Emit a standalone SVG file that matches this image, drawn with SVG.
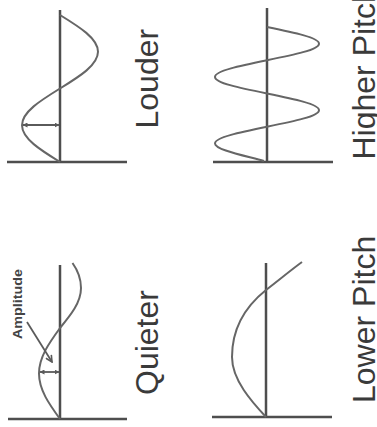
<svg xmlns="http://www.w3.org/2000/svg" width="377" height="427" viewBox="0 0 377 427">
<style>
.axis{stroke:#4e4e4e;stroke-width:2.5;fill:none}
.wave{stroke:#666;stroke-width:2;fill:none}
.lbl{font-family:"Liberation Sans",Arial,sans-serif;font-size:32px;fill:#3a3a3a}
.small{font-family:"Liberation Sans",Arial,sans-serif;font-size:13px;font-weight:bold;fill:#444}
.arr{stroke:#5a5a5a;stroke-width:1.8;fill:none}
</style>
<defs>
<marker id="ah" viewBox="0 0 10 10" refX="9" refY="5" markerWidth="5" markerHeight="5" orient="auto-start-reverse" markerUnits="userSpaceOnUse">
<path d="M0,0 L10,5 L0,10 Z" fill="#5a5a5a"/>
</marker>
<marker id="av" viewBox="0 0 10 10" refX="9" refY="5" markerWidth="8" markerHeight="8" orient="auto" markerUnits="userSpaceOnUse">
<path d="M1,1 L9,5 L1,9" fill="none" stroke="#5a5a5a" stroke-width="2"/>
</marker>
</defs>
<rect width="377" height="427" fill="#ffffff"/>
<g id="louder">
<line class="axis" x1="60" y1="10" x2="60" y2="162"/>
<line class="axis" x1="7" y1="162" x2="127" y2="162"/>
<path class="wave" d="M60,162 C40.53,150.02 22,138.55 22,125.25 C22,111.95 40.53,100.48 60,88.5 C79.47,76.52 98,65.05 98,51.75 C98,38.45 79.47,26.98 60,15"/>
<text class="lbl" transform="translate(158,128.5) rotate(-90)">Louder</text>
</g>
<g id="higher-pitch">
<line class="axis" x1="267" y1="8" x2="267" y2="162"/>
<line class="axis" x1="213" y1="162" x2="333" y2="162"/>
<path class="wave" d="M264,161 C240.36,154.58 215,149.39 215,143.375 C215,137.355 240.36,132.175 267,126.75 C293.64,121.33 319,116.14 319,110.125 C319,104.105 293.64,98.925 267,93.5 C240.36,88.08 215,82.89 215,76.875 C215,70.855 240.36,65.675 267,60.25 C293.64,54.83 319,49.64 319,43.625 C319,37.605 293.64,32.425 267,27"/>
<text class="lbl" transform="translate(375,159.5) rotate(-90)">Higher Pitch</text>
</g>
<g id="quieter">
<line class="axis" x1="60" y1="265" x2="60" y2="419"/>
<line class="axis" x1="8" y1="419" x2="127" y2="419"/>
<path class="wave" d="M60,419 C49.24,404.16 39,389.97 39,373.5 C39,357.03 49.24,342.84 60,328 C70.76,314.96 81,302.48 81,288 C81,279 77.5,270 72.5,263"/>
<text class="lbl" transform="translate(158,395) rotate(-90)">Quieter</text>
<text class="small" transform="translate(22,339) rotate(-90)" textLength="70" lengthAdjust="spacingAndGlyphs">Amplitude</text>
</g>
<g id="lower-pitch">
<line class="axis" x1="266" y1="263" x2="266" y2="417"/>
<line class="axis" x1="212" y1="417" x2="332" y2="417"/>
<path class="wave" d="M266,417 C252,402 232,380 232,357 C232,327 246,306 266,290 C279,280 291,270 302,262"/>
<text class="lbl" transform="translate(375,403) rotate(-90)">Lower Pitch</text>
</g>
<g id="connectors">
<line class="arr" x1="23" y1="125" x2="59" y2="125" marker-start="url(#ah)" marker-end="url(#ah)"/>
<line class="arr" x1="40" y1="372" x2="59" y2="372" marker-start="url(#ah)" marker-end="url(#ah)"/>
<line class="arr" x1="27" y1="322" x2="52" y2="362" marker-end="url(#av)"/>
</g>
</svg>
